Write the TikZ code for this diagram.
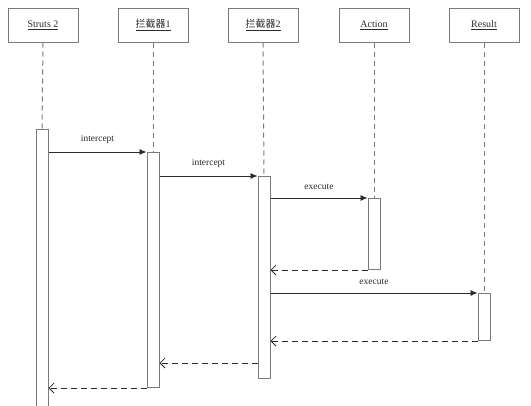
\documentclass[tikz,border=0pt]{standalone}
\usepackage{fontspec}
\setmainfont{Liberation Serif}
\newfontfamily\cjk{Noto Sans CJK SC}
\usetikzlibrary{arrows.meta,positioning}
\definecolor{boxgray}{HTML}{7A7A7A}
\definecolor{msgdark}{HTML}{2B2B2B}
\begin{document}
\begin{tikzpicture}[x=1pt,y=-1pt,
  obj/.style={rectangle, draw=boxgray, line width=1pt, minimum width=70pt,
              minimum height=34pt, inner sep=0pt, font=\fontsize{10}{12}\selectfont, text=msgdark},
  bar/.style={rectangle, draw=boxgray, line width=1pt, fill=white, minimum width=12pt,
              inner sep=0pt, anchor=north},
  life/.style={draw=boxgray, line width=1pt, dash pattern=on 5pt off 4pt},
  call/.style={-{Latex[length=7pt,width=6pt]}, draw=msgdark, line width=0.8pt},
  ret/.style={-{Straight Barb[length=5pt,width=10pt]}, draw=msgdark, line width=0.8pt,
              dash pattern=on 6pt off 4pt},
  lbl/.style={font=\fontsize{9.5}{11}\selectfont, text=msgdark, above=5pt}
]
  \useasboundingbox (0,0) rectangle (531,405);

  % objects
  \node[obj] (struts) at (43,25)  {\underline{Struts 2}};
  \node[obj] (inter1) at (153,25) {\underline{{\cjk 拦截器}1}};
  \node[obj] (inter2) at (263,25) {\underline{{\cjk 拦截器}2}};
  \node[obj] (action) at (374,25) {\underline{Action}};
  \node[obj] (result) at (484,25) {\underline{Result}};

  % activation bars
  \node[bar,minimum height=290pt] (sbar) at (42,129)  {};
  \node[bar,minimum height=235pt] (ibar1) at (153,152) {};
  \node[bar,minimum height=202pt] (ibar2) at (264,176) {};
  \node[bar,minimum height=71pt]  (abar) at (374,198) {};
  \node[bar,minimum height=47pt]  (rbar) at (484,293) {};
  \coordinate (back2) at (0,363);

  % lifelines
  \draw[life] (struts.south) -- (sbar.north);
  \draw[life] (inter1.south) -- (ibar1.north);
  \draw[life] (inter2.south) -- (ibar2.north);
  \draw[life] (action.south) -- (abar.north);
  \draw[life] (result.south) -- (rbar.north);

  % messages
  \draw[call] (sbar.east |- ibar1.north) -- node[lbl]{intercept} (ibar1.north west);
  \draw[call] (ibar1.east |- ibar2.north) -- node[lbl]{intercept} (ibar2.north west);
  \draw[call] (ibar2.east |- abar.north) -- node[lbl]{execute} (abar.north west);
  \draw[ret] (abar.south west) -- (ibar2.east |- abar.south);
  \draw[call] (ibar2.east |- rbar.north) -- node[lbl]{execute} (rbar.north west);
  \draw[ret] (rbar.south west) -- (ibar2.east |- rbar.south);
  \draw[ret] (ibar2.west |- back2) -- (ibar1.east |- back2);
  \draw[ret] (ibar1.south west) -- (sbar.east |- ibar1.south);
\end{tikzpicture}
\end{document}
